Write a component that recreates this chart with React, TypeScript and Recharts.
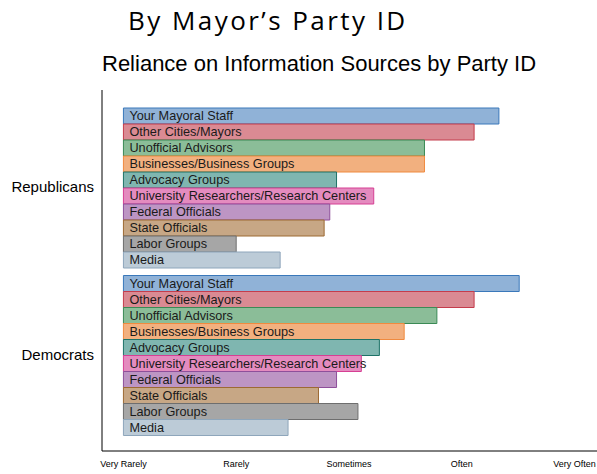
import { Bar, BarChart, XAxis, YAxis } from "recharts";

const parties = ["Republicans", "Democrats"];

const sources = [
  "Your Mayoral Staff",
  "Other Cities/Mayors",
  "Unofficial Advisors",
  "Businesses/Business Groups",
  "Advocacy Groups",
  "University Researchers/Research Centers",
  "Federal Officials",
  "State Officials",
  "Labor Groups",
  "Media",
];

const republicanValues = [4.33, 4.11, 3.67, 3.67, 2.89, 3.22, 2.83, 2.78, 2.0, 2.39];
const democratValues = [4.51, 4.11, 3.78, 3.49, 3.27, 3.11, 2.89, 2.73, 3.08, 2.46];

const tickValues = [1, 2, 3, 4, 5];
const tickLabels = ["Very Rarely", "Rarely", "Sometimes", "Often", "Very Often"];

const fillColors = [
  "#90b2d7", "#da8a93", "#8bbd98", "#f2b07f", "#7fb6b0",
  "#e48bbf", "#bd95c4", "#c7a785", "#a6a6a6", "#bccbd7",
];
const strokeColors = [
  "#3a78ba", "#c43c4c", "#3b8a55", "#f08a3f", "#1e7267",
  "#d63f93", "#8e4f9a", "#9d6a33", "#6e6e6e", "#8ea6bb",
];

const SANS = "'Liberation Sans', Arial, Helvetica, sans-serif";

// bars run from "Very Rarely" (1) out to the mean score
const data = parties.map((party, i) => {
  const values = i === 0 ? republicanValues : democratValues;
  const row: Record<string, any> = { party };
  sources.forEach((_, j) => {
    row[`s${j}`] = [1, values[j]];
  });
  return row;
});

const makeLabel = (name: string) => (props: any) => {
  const vb = props.viewBox ?? {};
  const x = props.x ?? vb.x;
  const y = props.y ?? vb.y;
  const h = props.height ?? vb.height;
  if (x == null || y == null) return null;
  return (
    <text
      x={Number(x) + 6}
      y={Number(y) + Number(h) / 2}
      dominantBaseline="central"
      fontSize={12.7}
      fontFamily={SANS}
      fill="#1a1a1a"
    >
      {name}
    </text>
  );
};

export default function App() {
  return (
    <div style={{ position: "relative", width: 597, height: 474 }}>
      <style>{"body{margin:0}"}</style>
      <svg width={597} height={90} style={{ position: "absolute", left: 0, top: 0 }}>
        <text x={128} y={30} fontSize={26} fontFamily="'Open Sans', sans-serif" letterSpacing={2.45} fill="#000">
          By Mayor’s Party ID
        </text>
        <text x={102} y={71} fontSize={22} fontFamily={SANS} fill="#000">
          Reliance on Information Sources by Party ID
        </text>
      </svg>
      <BarChart
        width={597}
        height={474}
        data={data}
        layout="vertical"
        margin={{ top: 90, right: 0, bottom: 0, left: 0 }}
        barCategoryGap={5}
        barGap={0}
      >
        <XAxis
          type="number"
          domain={[0.81, 5.2]}
          allowDataOverflow
          ticks={tickValues}
          tickFormatter={(v: number) => tickLabels[tickValues.indexOf(v)] ?? ""}
          height={23}
          tickLine={false}
          tickSize={0}
          tickMargin={10}
          axisLine={{ stroke: "#000", strokeWidth: 1 }}
          tick={{ fontSize: 9, fill: "#000", fontFamily: SANS }}
          interval={0}
        />
        <YAxis
          type="category"
          dataKey="party"
          width={102}
          padding={{ top: 13, bottom: 13 }}
          tickLine={false}
          tickSize={0}
          tickMargin={8}
          axisLine={{ stroke: "#000", strokeWidth: 1 }}
          tick={{ fontSize: 15, fill: "#000", fontFamily: SANS }}
        />
        {sources.map((name, j) => (
          <Bar
            key={name}
            dataKey={`s${j}`}
            fill={fillColors[j]}
            stroke={strokeColors[j]}
            strokeWidth={1}
            isAnimationActive={false}
            label={makeLabel(name)}
          />
        ))}
      </BarChart>
    </div>
  );
}
